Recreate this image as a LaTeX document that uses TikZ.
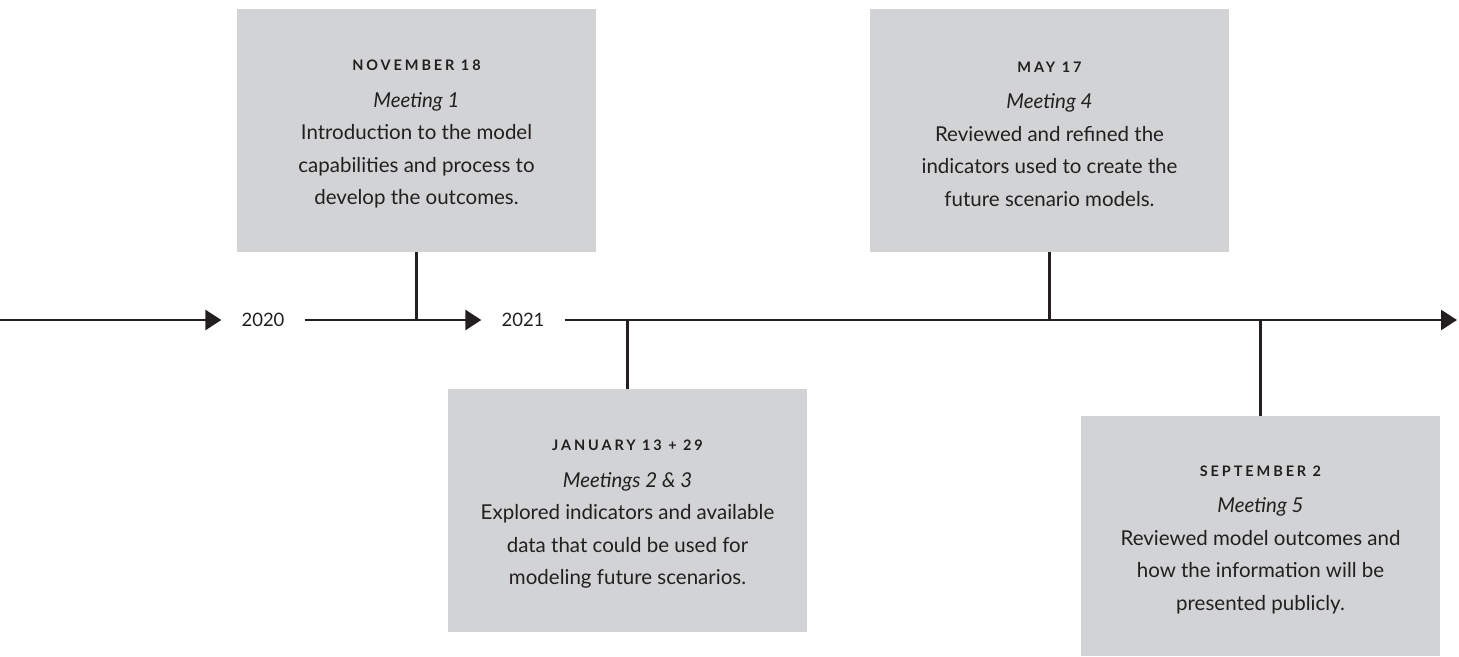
\documentclass[tikz,border=0pt]{standalone}
\usepackage{fontspec}
\setmainfont{Lato}
\usepackage{tikz}
\usetikzlibrary{arrows.meta,positioning}
\newfontfamily\datefont{Lato}[LetterSpace=20]
\definecolor{boxgray}{HTML}{D1D3D4}
\definecolor{ink}{HTML}{231F20}
\newcommand{\DATE}[1]{\rule{0pt}{18pt}{\datefont\bfseries\fontsize{14.5}{17}\selectfont #1}\\[4pt]}

\begin{document}
\begin{tikzpicture}[x=1pt, y=-1pt,
    event/.style={fill=boxgray, text=ink, inner sep=0pt, minimum width=359pt, minimum height=243pt, align=center, font=\fontsize{20.5}{32.5}\selectfont},
    year/.style={text=ink, inner xsep=20pt, font=\fontsize{18.5}{24}\selectfont},
    axis/.style={draw=ink, line width=2.8pt, -{Triangle[length=16pt, width=20pt]}},
    tick/.style={draw=ink, line width=2.8pt}
]
\useasboundingbox (0,0) rectangle (1459,656);

% timeline
\coordinate (start) at (0,320);
\node[year] (y2020) at (263,320) {2020};
\node[year] (y2021) at (523,320) {2021};
\coordinate (stop) at (1457,320);
\draw[axis] (start) -- (y2020.west);
\draw[axis] (y2020.east) -- (y2021.west);
\draw[axis] (y2021.east) -- (stop);

% meetings
\node[event] (nov) at (416.5,130.5) {\DATE{NOVEMBER 18}\textit{Meeting 1}\\Introduction to the model\\capabilities and process to\\develop the outcomes.};
\node[event] (jan) at (627.5,510.5) {\DATE{JANUARY 13 + 29}\textit{Meetings 2 \& 3}\\Explored indicators and available\\data that could be used for\\modeling future scenarios.};
\node[event] (may) at (1049.5,130.5) {\DATE{MAY 17}\textit{Meeting 4}\\Reviewed and refined the\\indicators used to create the\\future scenario models.};
\node[event, minimum height=240pt] (sep) at (1260.5,536) {\DATE{SEPTEMBER 2}\textit{Meeting 5}\\Reviewed model outcomes and\\how the information will be\\presented publicly.};

% ticks to the timeline
\draw[tick] (nov.south) -- (nov.south |- start);
\draw[tick] (jan.north) -- (jan.north |- start);
\draw[tick] (may.south) -- (may.south |- start);
\draw[tick] (sep.north) -- (sep.north |- start);

\end{tikzpicture}
\end{document}
